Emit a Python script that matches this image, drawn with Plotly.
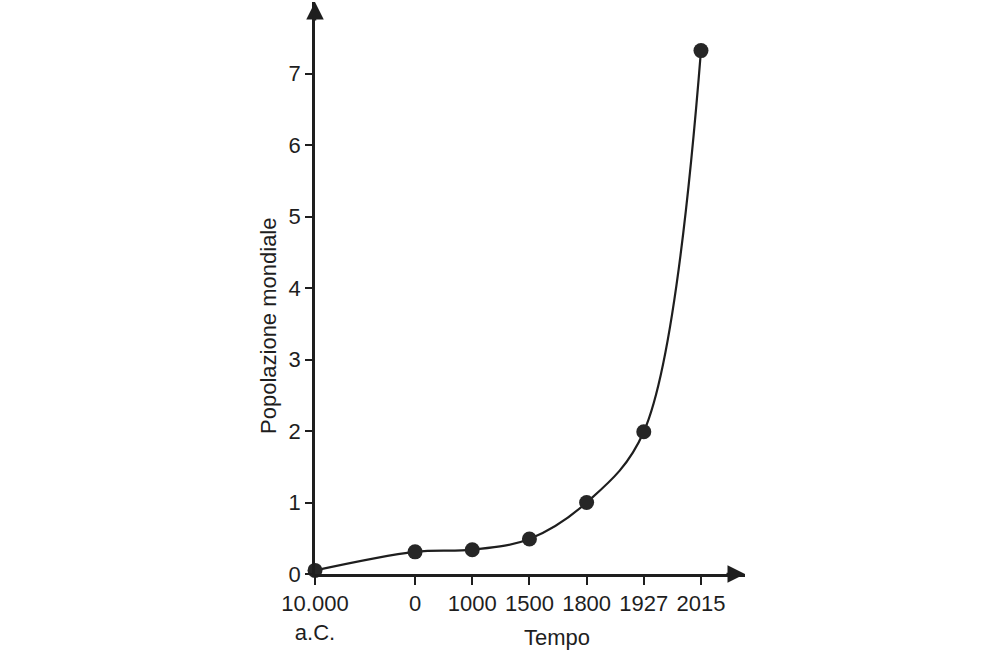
import plotly.graph_objects as go

# Data
tick_labels = ["10.000<br>a.C.", "0", "1000", "1500", "1800", "1927", "2015"]
x_positions = [0, 1.75, 2.75, 3.75, 4.75, 5.75, 6.75]  # schematic (non-linear) time axis
population = [0.05, 0.31, 0.34, 0.49, 1.0, 1.99, 7.32]  # billions
y_ticks = [0, 1, 2, 3, 4, 5, 6, 7]

ink = "#1e1e1e"
font = dict(family="Liberation Sans, Arial, sans-serif", size=22, color=ink)

fig = go.Figure()
fig.add_trace(go.Scatter(
    x=x_positions, y=population, mode="lines+markers",
    line=dict(color=ink, width=2.2, shape="spline", smoothing=1.0),
    marker=dict(color="#262626", size=15),
    cliponaxis=False, showlegend=False, hoverinfo="skip"))

fig.update_xaxes(
    range=[0, 7.52], tickmode="array", tickvals=x_positions, ticktext=tick_labels,
    showline=True, linecolor=ink, linewidth=2.5, ticks="outside", ticklen=8,
    tickwidth=2.2, tickcolor=ink, showgrid=False, zeroline=False,
    tickfont=font)
fig.update_yaxes(
    range=[0, 8.0], tickmode="array", tickvals=y_ticks,
    showline=True, linecolor=ink, linewidth=2.5, ticks="outside", ticklen=7,
    tickwidth=2.2, tickcolor=ink, showgrid=False, zeroline=False,
    tickfont=font)

# Arrow heads on axes
fig.add_annotation(x=1, y=0, xref="paper", yref="paper", ax=-20, ay=0,
                   showarrow=True, arrowhead=2, arrowsize=1.4, arrowwidth=2.5,
                   arrowcolor=ink, text="")
fig.add_annotation(x=0, y=1, xref="paper", yref="paper", ax=0, ay=20,
                   showarrow=True, arrowhead=2, arrowsize=1.4, arrowwidth=2.5,
                   arrowcolor=ink, text="")

# Axis titles
fig.add_annotation(text="Tempo", showarrow=False, font=font,
                   xref="paper", yref="paper", xanchor="center", yanchor="middle",
                   x=(557 - 315) / 430, y=(574 - 637) / 572)
fig.add_annotation(text="Popolazione mondiale", textangle=-90, showarrow=False, font=font,
                   xref="paper", yref="paper", xanchor="center", yanchor="middle",
                   x=(268 - 315) / 430, y=(574 - 326) / 572)

fig.update_layout(
    width=1000, height=661, autosize=False,
    margin=dict(l=315, r=255, t=2, b=87),
    paper_bgcolor="white", plot_bgcolor="white", font=font)

fig.write_html("out.html")
